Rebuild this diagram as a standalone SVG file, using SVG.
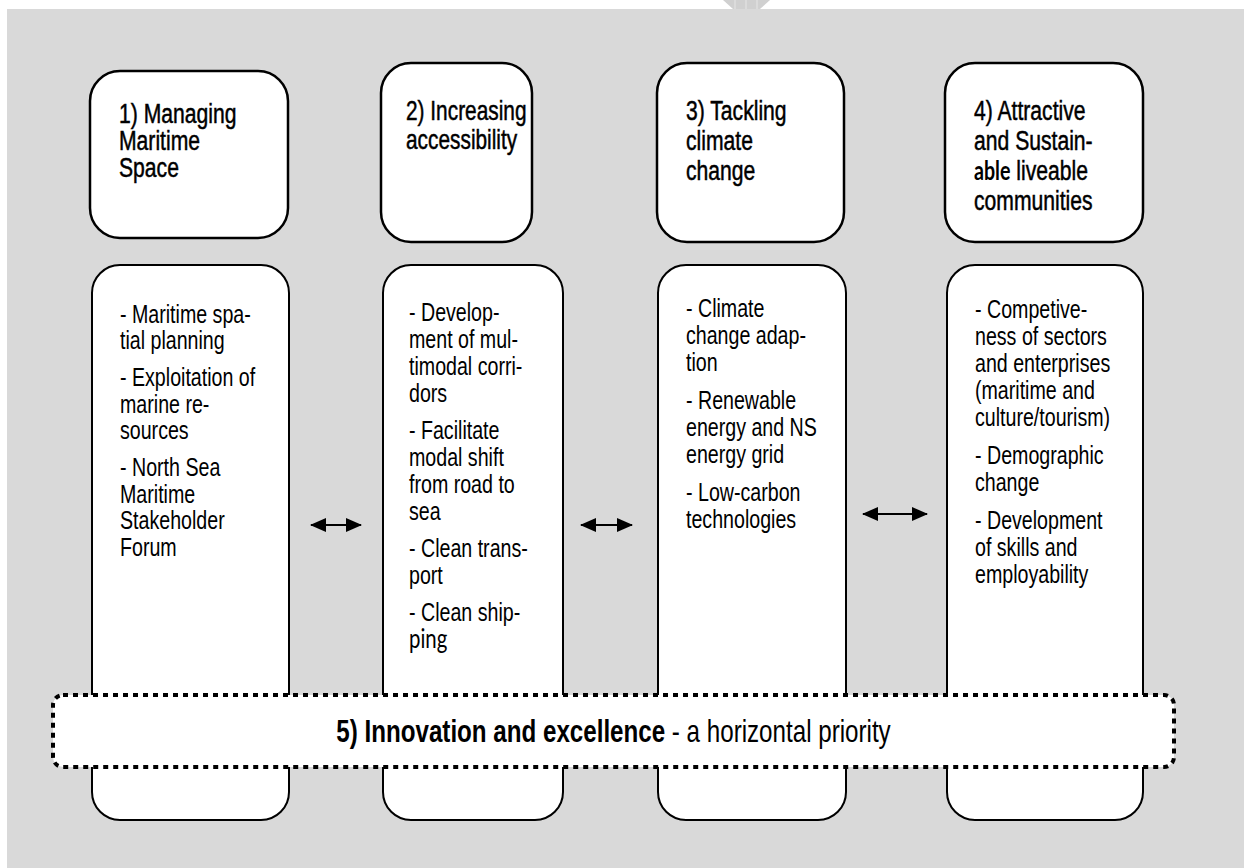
<svg xmlns="http://www.w3.org/2000/svg" width="1244" height="868" viewBox="0 0 1244 868">
<style>
.t{font-family:"Liberation Sans",Arial,sans-serif;fill:#000}
.h{font-size:28px;stroke:#000;stroke-width:0.5}
.b{font-size:26px}
.m{font-size:32px}
.cal{font-family:Lato,"Open Sans",sans-serif;font-size:27px}
.calb{font-family:Lato,"Open Sans",sans-serif;font-size:26px;font-weight:bold;stroke:none}
.hb{fill:#fff;stroke:#000;stroke-width:2.5}
.bb{fill:#fff;stroke:#000;stroke-width:2}
.arr{stroke:#000;stroke-width:2;fill:none;marker-start:url(#ah);marker-end:url(#ah)}
</style>
<defs>
<marker id="ah" markerUnits="userSpaceOnUse" markerWidth="16" markerHeight="14" refX="15" refY="7" orient="auto-start-reverse" viewBox="0 0 16 14">
<path d="M0,0 L16,7 L0,14 Z" fill="#000"/>
</marker>
</defs>
<rect x="0" y="0" width="1244" height="868" fill="#fff"/>
<rect x="7" y="9" width="1237" height="859" fill="#d9d9d9"/>
<polygon points="723,0 770,0 760,9 733,9" fill="#d0d0d0"/>
<g stroke="#e6e6e6" stroke-width="1">
<line x1="735" y1="0" x2="735" y2="9"/><line x1="746" y1="0" x2="746" y2="9"/><line x1="757" y1="0" x2="757" y2="9"/>
</g>

<g id="node1">
<rect class="hb" x="90" y="71" width="198" height="167" rx="30"/>
<rect class="bb" x="92" y="265" width="197" height="555" rx="28"/>
<g class="t" transform="translate(119,0) scale(0.755,1)">
<text class="h" x="0" y="123">1) Managing</text>
<text class="h" x="0" y="150">Maritime</text>
<text class="h" x="0" y="177">Space</text>
</g>
<g class="t" transform="translate(120,0) scale(0.755,1)">
<text class="b" x="0" y="323">- Maritime spa-</text>
<text class="b" x="0" y="349.5">tial planning</text>
<text class="b" x="0" y="386.5">- Exploitation of</text>
<text class="b" x="0" y="413">marine re-</text>
<text class="b" x="0" y="439.5">sources</text>
<text class="b" x="0" y="476.5">- North Sea</text>
<text class="b" x="0" y="503">Maritime</text>
<text class="b" x="0" y="529.5">Stakeholder</text>
<text class="b" x="0" y="556">Forum</text>
</g>
</g>

<g id="node2">
<rect class="hb" x="381" y="63" width="151" height="179" rx="30"/>
<rect class="bb" x="383" y="265" width="180" height="555" rx="28"/>
<g class="t" transform="translate(406,0) scale(0.745,1)">
<text class="h" x="0" y="120">2) Increasing</text>
<text class="h" x="0" y="149">accessibility</text>
</g>
<g class="t" transform="translate(409,0) scale(0.755,1)">
<text class="b" x="0" y="321">- Develop-</text>
<text class="b" x="0" y="348">ment of mul-</text>
<text class="b" x="0" y="375">timodal corri-</text>
<text class="b" x="0" y="402">dors</text>
<text class="b" x="0" y="439">- Facilitate</text>
<text class="b" x="0" y="466">modal shift</text>
<text class="b" x="0" y="493">from road to</text>
<text class="b" x="0" y="520">sea</text>
<text class="b" x="0" y="557">- Clean trans-</text>
<text class="b" x="0" y="584">port</text>
<text class="b" x="0" y="621">- Clean ship-</text>
<text class="cal" x="0" y="648">ping</text>
</g>
</g>

<g id="node3">
<rect class="hb" x="657" y="63" width="187" height="179" rx="30"/>
<rect class="bb" x="658" y="265" width="188" height="555" rx="28"/>
<g class="t" transform="translate(686,0) scale(0.755,1)">
<text class="h" x="0" y="120">3) Tackling</text>
<text class="h" x="0" y="150">climate</text>
<text class="h" x="0" y="180">change</text>
</g>
<g class="t" transform="translate(686,0) scale(0.755,1)">
<text class="b" x="0" y="317">- Climate</text>
<text class="b" x="0" y="344">change adap-</text>
<text class="b" x="0" y="371">tion</text>
<text class="b" x="0" y="409">- Renewable</text>
<text class="b" x="0" y="436">energy and NS</text>
<text class="b" x="0" y="463">energy grid</text>
<text class="b" x="0" y="501">- Low-carbon</text>
<text class="b" x="0" y="528">technologies</text>
</g>
</g>

<g id="node4">
<rect class="hb" x="945" y="63" width="198" height="179" rx="30"/>
<rect class="bb" x="947" y="265" width="196" height="555" rx="28"/>
<g class="t" transform="translate(974,0) scale(0.755,1)">
<text class="h" x="0" y="120">4) Attractive</text>
<text class="h" x="0" y="150">and Sustain-</text>
<text class="h" x="0" y="180"><tspan class="calb">able</tspan> liveable</text>
<text class="h" x="0" y="210">communities</text>
</g>
<g class="t" transform="translate(975,0) scale(0.755,1)">
<text class="b" x="0" y="318">- Competive-</text>
<text class="b" x="0" y="345">ness of sectors</text>
<text class="b" x="0" y="372">and enterprises</text>
<text class="b" x="0" y="399">(maritime and</text>
<text class="b" x="0" y="426">culture/tourism)</text>
<text class="b" x="0" y="464">- Demographic</text>
<text class="b" x="0" y="491">change</text>
<text class="b" x="0" y="529">- Development</text>
<text class="b" x="0" y="556">of skills and</text>
<text class="b" x="0" y="583">employability</text>
</g>
</g>

<g id="node5">
<rect x="53" y="695" width="1121" height="72" rx="10" fill="#fff" stroke="#000" stroke-width="4" stroke-dasharray="5 5"/>
<g class="t" transform="translate(613.5,0) scale(0.755,1)">
<text class="m" x="0" y="742" text-anchor="middle"><tspan font-weight="bold">5) Innovation and excellence</tspan> - a horizontal priority</text>
</g>
</g>

<g id="connectors">
<line class="arr" x1="311" y1="525" x2="361" y2="525"/>
<line class="arr" x1="581" y1="525" x2="632" y2="525"/>
<line class="arr" x1="863" y1="514" x2="927" y2="514"/>
</g>
</svg>
